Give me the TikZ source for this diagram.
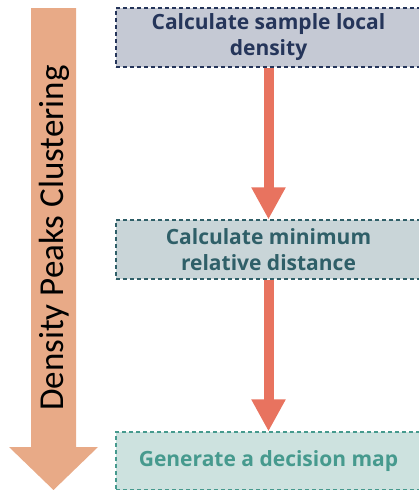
\documentclass[tikz,border=0pt]{standalone}
\usepackage{fontspec}
\setmainfont{Open Sans}
\newfontfamily\flowfont{Carlito}
\usetikzlibrary{positioning}
\usetikzlibrary{arrows.meta}

\definecolor{flowpeach}{HTML}{E8AA87}
\definecolor{steparrow}{HTML}{E8735F}
\definecolor{navyfill}{HTML}{C5C9D4}
\definecolor{navyline}{HTML}{25355A}
\definecolor{slatefill}{HTML}{C9D5D8}
\definecolor{slateline}{HTML}{2F5F68}
\definecolor{tealfill}{HTML}{CDE2DF}
\definecolor{tealline}{HTML}{469A8E}

\begin{document}
\begin{tikzpicture}[x=1pt,y=-1pt,
    stepbox/.style = {draw, dashed, line width=1.1pt, dash pattern=on 4pt off 3pt, minimum width=305pt, minimum height=59pt, align=center, inner sep=0pt, font=\bfseries\fontsize{21}{26}\selectfont},
    flow/.style = {-{Triangle[length=32pt,width=32pt]}, line width=10pt, draw=steparrow}]
        \useasboundingbox (0,0) rectangle (419,490);
        % the long arrow on the left
        \fill[flowpeach] (31,8) -- (76,8) -- (76,447) -- (98,447) -- (53.5,490) -- (9,447) -- (31,447) -- cycle;
        \node[rotate=90, font=\flowfont\fontsize{35}{40}\selectfont] (title) at (54,238) {Density Peaks Clustering};
        % the three steps
        \node[stepbox, fill=navyfill, draw=navyline, text=navyline] (s1) at (268.5,37.5) {Calculate sample local\\density};
        \node[stepbox, fill=slatefill, draw=slateline, text=slateline] (s2) at (268.5,249.5) {Calculate minimum\\relative distance};
        \node[stepbox, fill=tealfill, draw=tealline, text=tealline, minimum height=58pt] (s3) at (268.5,461) {Generate a decision map};
        \draw[flow] (s1) -- (s2);
        \draw[flow] (s2) -- (s3);
\end{tikzpicture}
\end{document}
